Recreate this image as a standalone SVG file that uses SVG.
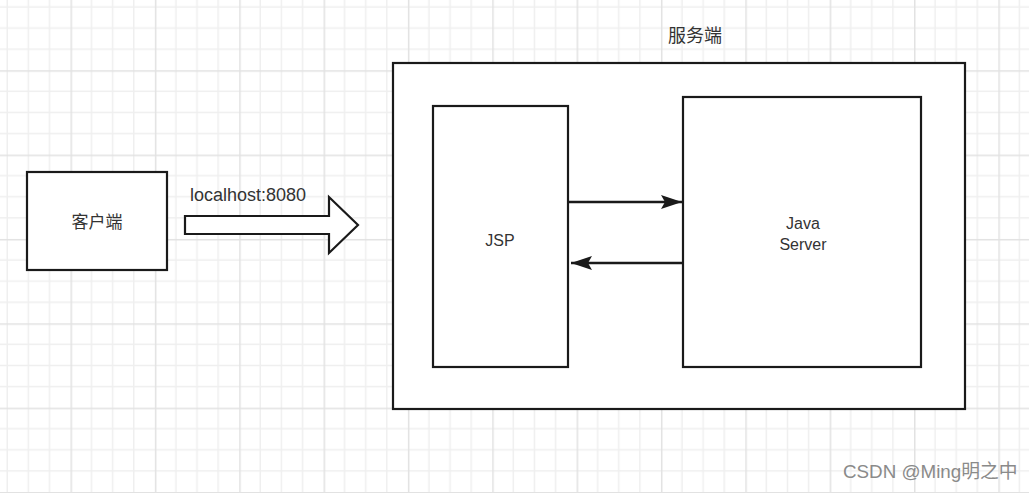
<svg xmlns="http://www.w3.org/2000/svg" width="1029" height="493" viewBox="0 0 1029 493">
<defs>
<pattern id="grid" patternUnits="userSpaceOnUse" x="-13.85" y="-14.1" width="84.35" height="84.35">
<path d="M21.09 0V84.35M42.18 0V84.35M63.26 0V84.35M0 21.09H84.35M0 42.18H84.35M0 63.26H84.35" stroke="#efefef" stroke-width="1.5" fill="none"/>
<path d="M0.75 0V84.35M0 0.75H84.35" stroke="#e2e2e2" stroke-width="1.5" fill="none"/>
</pattern>
<marker id="ah" markerUnits="userSpaceOnUse" markerWidth="22" markerHeight="16" refX="21" refY="8" orient="auto">
<path d="M0 1L21 8L0 15L4 8Z" fill="#1a1a1a"/>
</marker>
<style>
.box{fill:#fff;stroke:#1a1a1a;stroke-width:2.2}
.lbl{font-family:"Liberation Sans","Noto Sans CJK SC",sans-serif;fill:#333;text-anchor:middle}
.conn{stroke:#1a1a1a;stroke-width:2.5;fill:none}
</style>
</defs>
<rect width="1029" height="493" fill="#fff"/>
<rect width="1029" height="493" fill="url(#grid)"/>
<g id="client">
<rect class="box" x="27" y="172" width="140" height="98"/>
<text class="lbl" x="97" y="228" font-size="17">客户端</text>
</g>
<g id="request-arrow">
<polygon points="185,216 329,216 329,197 358,225 329,253 329,234 185,234" fill="#fff" stroke="#1a1a1a" stroke-width="2.2" stroke-linejoin="miter"/>
<text class="lbl" x="190" y="201" font-size="18" style="text-anchor:start">localhost:8080</text>
</g>
<g id="server">
<rect class="box" x="393" y="63" width="572" height="346"/>
<text class="lbl" x="695" y="42" font-size="18">服务端</text>
</g>
<g id="jsp">
<rect class="box" x="433" y="106" width="135" height="261"/>
<text class="lbl" x="500" y="246" font-size="16">JSP</text>
</g>
<g id="java-server">
<rect class="box" x="683" y="97" width="238" height="270"/>
<text class="lbl" x="803" y="229" font-size="16">Java</text>
<text class="lbl" x="803" y="250" font-size="16">Server</text>
</g>
<g id="connectors">
<line class="conn" x1="569" y1="202" x2="682" y2="202" marker-end="url(#ah)"/>
<line class="conn" x1="682" y1="263" x2="571" y2="263" marker-end="url(#ah)"/>
</g>
<text x="843" y="478" font-size="18.8" font-family="'Liberation Sans','Noto Sans CJK SC',sans-serif" fill="#8a8a8a">CSDN @Ming明之中</text>
</svg>
